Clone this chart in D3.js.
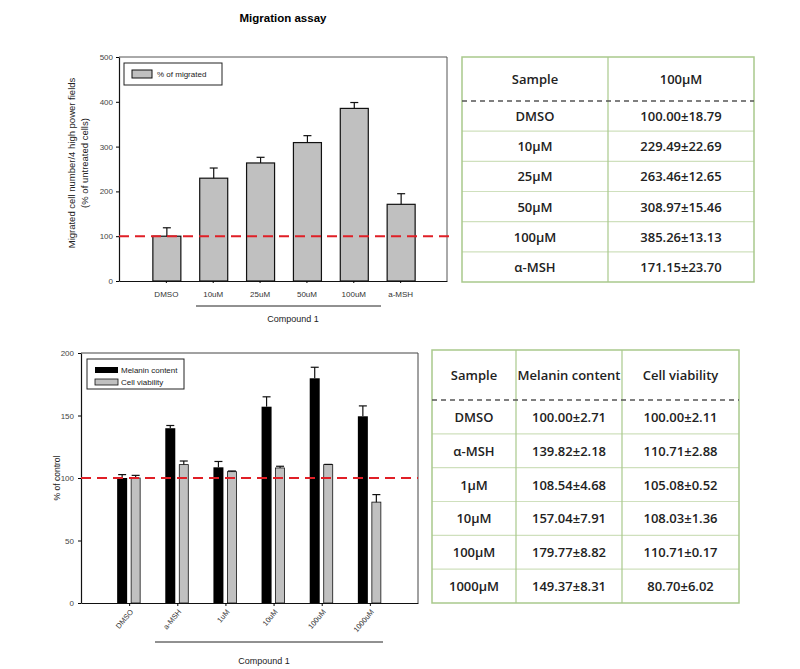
<!DOCTYPE html>
<html><head><meta charset="utf-8">
<script src="https://cdn.jsdelivr.net/npm/d3@7"></script>
<style>body{margin:0;background:#fff}svg{display:block}</style>
</head><body>
<svg id="c" width="800" height="669"></svg>
<script>
// ---- Data ----
const migCats = ["DMSO","10uM","25uM","50uM","100uM","a-MSH"];
const migVals = [100.00,229.49,263.46,308.97,385.26,171.15];
const migErrs = [18.79,22.69,12.65,15.46,13.13,23.70];
const migTableLabels = ["DMSO","10μM","25μM","50μM","100μM","α-MSH"];
const migTicks = [0,100,200,300,400,500];

const melCats = ["DMSO","a-MSH","1uM","10uM","100uM","1000uM"];
const melVals = [100.00,139.82,108.54,157.04,179.77,149.37];
const melErrs = [2.71,2.18,4.68,7.91,8.82,8.31];
const viaVals = [100.00,110.71,105.08,108.03,110.71,80.70];
const viaErrs = [2.11,2.88,0.52,1.36,0.17,6.02];
const melTableLabels = ["DMSO","α-MSH","1μM","10μM","100μM","1000μM"];
const melTicks = [0,50,100,150,200];

const svg = d3.select("#c");
const chartFont = "Liberation Sans, Arial, sans-serif";
const tableFont = "'Open Sans', 'Noto Sans CJK KR', sans-serif";
const fmt = (v,e) => v.toFixed(2) + "±" + e.toFixed(2);

// ---- Title ----
svg.append("text").attr("x",283).attr("y",22).attr("text-anchor","middle")
  .attr("font-family",chartFont).attr("font-weight","bold").attr("font-size",11.5)
  .text("Migration assay");

// ================= Top chart =================
{
  const L=119,R=447,T=57,B=281;
  const x = d3.scalePoint().domain(migCats).range([L,R]).padding(1);
  const y = d3.scaleLinear().domain([0,500]).range([B,T]);
  const g = svg.append("g");
  g.append("line").attr("x1",L).attr("x2",R).attr("y1",T).attr("y2",T).attr("stroke","#555");
  g.append("line").attr("x1",R).attr("x2",R).attr("y1",T).attr("y2",B).attr("stroke","#555");
  const bw=28;
  g.selectAll(".b").data(migCats).join("rect")
    .attr("x",d=>x(d)-bw/2+1).attr("width",bw)
    .attr("y",(d,i)=>y(migVals[i])).attr("height",(d,i)=>y(0)-y(migVals[i]))
    .attr("fill","#c0c0c0").attr("stroke","#111").attr("stroke-width",1.2);
  g.selectAll(".e").data(migCats).join("line")
    .attr("x1",d=>x(d)+1).attr("x2",d=>x(d)+1)
    .attr("y1",(d,i)=>y(migVals[i])).attr("y2",(d,i)=>y(migVals[i]+migErrs[i]))
    .attr("stroke","#111").attr("stroke-width",1.2);
  g.selectAll(".c").data(migCats).join("line")
    .attr("x1",d=>x(d)-3).attr("x2",d=>x(d)+5)
    .attr("y1",(d,i)=>y(migVals[i]+migErrs[i])).attr("y2",(d,i)=>y(migVals[i]+migErrs[i]))
    .attr("stroke","#111").attr("stroke-width",1.2);
  const ya = g.append("g").attr("transform",`translate(${L},0)`)
    .call(d3.axisLeft(y).tickValues(migTicks).tickSize(3).tickPadding(3).tickSizeOuter(0));
  ya.select(".domain").attr("stroke","#111").attr("stroke-width",1.2);
  ya.selectAll("text").attr("font-family",chartFont).attr("font-size",8).attr("fill","#444");
  const xa = g.append("g").attr("transform",`translate(0,${B})`)
    .call(d3.axisBottom(x).tickSize(2).tickPadding(8).tickSizeOuter(0));
  xa.select(".domain").attr("stroke","#111").attr("stroke-width",1.2);
  xa.selectAll("text").attr("font-family",chartFont).attr("font-size",8).attr("fill","#333");
  g.append("line").attr("x1",L).attr("x2",R+4).attr("y1",y(100)).attr("y2",y(100))
    .attr("stroke","#e01f26").attr("stroke-width",2).attr("stroke-dasharray","10,6");
  g.append("line").attr("x1",196).attr("x2",381).attr("y1",306).attr("y2",306).attr("stroke","#222");
  g.append("text").attr("x",293).attr("y",322).attr("text-anchor","middle")
    .attr("font-family",chartFont).attr("font-size",9).attr("fill","#222").text("Compound 1");
  const yt = g.append("text").attr("transform",`translate(75,163) rotate(-90)`)
    .attr("text-anchor","middle").attr("font-family",chartFont).attr("font-size",9.5).attr("fill","#222");
  yt.append("tspan").attr("x",0).attr("dy",0).text("Migrated cell number/4 high power fields");
  yt.append("tspan").attr("x",0).attr("dy",12.5).text("(% of untreated  cells)");
  g.append("rect").attr("x",124).attr("y",63).attr("width",98).attr("height",22)
    .attr("fill","#fff").attr("stroke","#222");
  g.append("rect").attr("x",132).attr("y",70).attr("width",20).attr("height",8)
    .attr("fill","#c0c0c0").attr("stroke","#111");
  g.append("text").attr("x",157).attr("y",77).attr("font-family",chartFont).attr("font-size",8)
    .attr("fill","#222").text("% of migrated");
}

// ================= Bottom chart =================
{
  const L=81,R=418,T=353,B=603;
  const x = d3.scalePoint().domain(melCats).range([L,R]).padding(1);
  const y = d3.scaleLinear().domain([0,200]).range([B,T]);
  const g = svg.append("g");
  g.append("line").attr("x1",L).attr("x2",R).attr("y1",T).attr("y2",T).attr("stroke","#444");
  g.append("line").attr("x1",R).attr("x2",R).attr("y1",T).attr("y2",B).attr("stroke","#444");
  g.selectAll(".m").data(melCats).join("rect")
    .attr("x",d=>x(d)-12).attr("width",10)
    .attr("y",(d,i)=>y(melVals[i])).attr("height",(d,i)=>y(0)-y(melVals[i]))
    .attr("fill","#000");
  g.selectAll(".v").data(melCats).join("rect")
    .attr("x",d=>x(d)+2).attr("width",9)
    .attr("y",(d,i)=>y(viaVals[i])).attr("height",(d,i)=>y(0)-y(viaVals[i]))
    .attr("fill","#c0c0c0").attr("stroke","#111").attr("stroke-width",0.8);
  const errs = [
    {vals:melVals, errs:melErrs, off:-7},
    {vals:viaVals, errs:viaErrs, off:6.5}
  ];
  errs.forEach(s=>{
    g.selectAll(null).data(melCats).join("line")
      .attr("x1",d=>x(d)+s.off).attr("x2",d=>x(d)+s.off)
      .attr("y1",(d,i)=>y(s.vals[i])).attr("y2",(d,i)=>y(s.vals[i]+s.errs[i]))
      .attr("stroke","#111").attr("stroke-width",1.2);
    g.selectAll(null).data(melCats).join("line")
      .attr("x1",d=>x(d)+s.off-4).attr("x2",d=>x(d)+s.off+4)
      .attr("y1",(d,i)=>y(s.vals[i]+s.errs[i])).attr("y2",(d,i)=>y(s.vals[i]+s.errs[i]))
      .attr("stroke","#111").attr("stroke-width",1.2);
  });
  const ya = g.append("g").attr("transform",`translate(${L},0)`)
    .call(d3.axisLeft(y).tickValues(melTicks).tickSize(3).tickPadding(4).tickSizeOuter(0));
  ya.select(".domain").attr("stroke","#111").attr("stroke-width",1.2);
  ya.selectAll("text").attr("font-family",chartFont).attr("font-size",8).attr("fill","#444");
  const xa = g.append("g").attr("transform",`translate(0,${B})`)
    .call(d3.axisBottom(x).tickSize(3).tickSizeOuter(0));
  xa.select(".domain").attr("stroke","#111").attr("stroke-width",1.2);
  xa.selectAll("text").attr("font-family",chartFont).attr("font-size",7.5).attr("fill","#333")
    .attr("text-anchor","end").attr("dy",0)
    .attr("transform","translate(4,9) rotate(-50)").attr("y",0).attr("x",0);
  g.append("line").attr("x1",L).attr("x2",R).attr("y1",y(100)).attr("y2",y(100))
    .attr("stroke","#e01f26").attr("stroke-width",2).attr("stroke-dasharray","10,6");
  g.append("line").attr("x1",155).attr("x2",383).attr("y1",642).attr("y2",642).attr("stroke","#222");
  g.append("text").attr("x",264).attr("y",664).attr("text-anchor","middle")
    .attr("font-family",chartFont).attr("font-size",9).attr("fill","#222").text("Compound 1");
  g.append("text").attr("transform",`translate(60,${(T+B)/2}) rotate(-90)`)
    .attr("text-anchor","middle").attr("font-family",chartFont).attr("font-size",8.5)
    .attr("fill","#222").text("% of control");
  g.append("rect").attr("x",87).attr("y",359).attr("width",97).attr("height",30)
    .attr("fill","#fff").attr("stroke","#222");
  g.append("rect").attr("x",95).attr("y",367).attr("width",23).attr("height",6).attr("fill","#000");
  g.append("rect").attr("x",95).attr("y",379).attr("width",23).attr("height",6)
    .attr("fill","#c0c0c0").attr("stroke","#111").attr("stroke-width",0.8);
  g.append("text").attr("x",121).attr("y",373).attr("font-family",chartFont).attr("font-size",8)
    .attr("fill","#222").text("Melanin content");
  g.append("text").attr("x",121).attr("y",385).attr("font-family",chartFont).attr("font-size",8)
    .attr("fill","#222").text("Cell viability");
}

// ================= Tables =================
function drawTable(cols, top, headBottom, bottom, header, rows){
  const g = svg.append("g");
  const n = rows.length;
  const rh = (bottom-headBottom)/n;
  const border = "#a9c98c", inner = "#cfe0bd";
  for(let i=1;i<n;i++){
    g.append("line").attr("x1",cols[0]).attr("x2",cols[cols.length-1])
      .attr("y1",headBottom+rh*i).attr("y2",headBottom+rh*i).attr("stroke",inner).attr("stroke-width",1.2);
  }
  for(let j=1;j<cols.length-1;j++){
    g.append("line").attr("x1",cols[j]).attr("x2",cols[j]).attr("y1",top).attr("y2",bottom)
      .attr("stroke",border).attr("stroke-width",1.2);
  }
  g.append("rect").attr("x",cols[0]).attr("y",top).attr("width",cols[cols.length-1]-cols[0])
    .attr("height",bottom-top).attr("fill","none").attr("stroke",border).attr("stroke-width",1.5);
  g.append("line").attr("x1",cols[0]).attr("x2",cols[cols.length-1]).attr("y1",headBottom).attr("y2",headBottom)
    .attr("stroke","#555").attr("stroke-width",1.5).attr("stroke-dasharray","5,4");
  header.forEach((h,j)=>{
    g.append("text").attr("x",(cols[j]+cols[j+1])/2).attr("y",(top+headBottom)/2)
      .attr("dominant-baseline","central").attr("text-anchor","middle")
      .attr("font-family",tableFont).attr("font-weight",600).attr("font-size",13).attr("fill","#222").text(h);
  });
  rows.forEach((r,i)=>{
    r.forEach((c,j)=>{
      g.append("text").attr("x",(cols[j]+cols[j+1])/2).attr("y",headBottom+rh*(i+0.5))
        .attr("dominant-baseline","central").attr("text-anchor","middle")
        .attr("font-family",tableFont).attr("font-weight",600).attr("font-size",13).attr("fill","#222").text(c);
    });
  });
}
drawTable([462,608,754],57,101,282,["Sample","100μM"],
  migTableLabels.map((l,i)=>[l, fmt(migVals[i],migErrs[i])]));
drawTable([432,516,622,739],350,400,603,["Sample","Melanin content","Cell viability"],
  melTableLabels.map((l,i)=>[l, fmt(melVals[i],melErrs[i]), fmt(viaVals[i],viaErrs[i])]));
</script>
</body></html>
